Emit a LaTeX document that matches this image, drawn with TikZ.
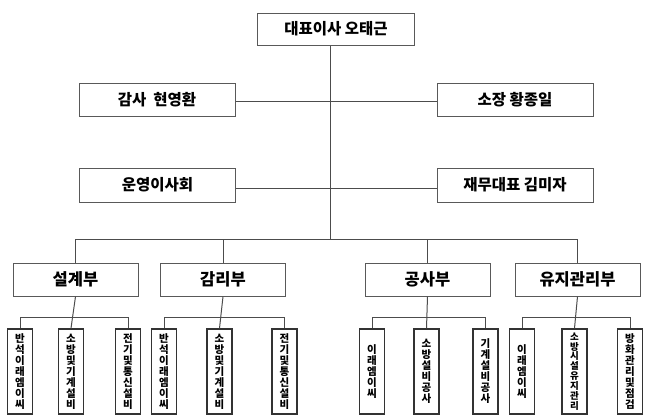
\documentclass[tikz,border=0pt]{standalone}
\usepackage{fontspec}
\setmainfont{Noto Sans CJK KR}
\begin{document}
\begin{tikzpicture}[x=1pt,y=-1pt,
  box/.style={draw=black!65,line width=1pt,fill=white,inner sep=0pt,font=\bfseries\fontsize{15.5}{17}\selectfont},
  dept/.style={box,minimum width=125pt,minimum height=33pt,font=\bfseries\fontsize{16.5}{18}\selectfont},
  top/.style={box,minimum width=156pt,minimum height=33pt},
  sub/.style={draw=black!80,line width=1.5pt,fill=white,inner sep=0pt,minimum width=25pt,minimum height=85pt,align=center,font=\bfseries\fontsize{10.5}{11}\selectfont},
  subs/.style={sub,font=\bfseries\fontsize{9.5}{9.9}\selectfont},
  conn/.style={draw=black!70,line width=1pt}]
\useasboundingbox (0,0) rectangle (652,418);
\fill[white] (0,0) rectangle (652,418);
% top
\node[top,minimum width=157pt,minimum height=32pt] (ceo) at (336,29) {대표이사 오태근};
\node[top] (audit) at (157,99.5) {감사~~현영환};
\node[top] (chief) at (515,99.5) {소장 황종일};
\node[top,minimum height=34pt] (board) at (157.5,185) {운영이사회};
\node[top,minimum height=34pt] (fin) at (515,185) {재무대표 김미자};
\coordinate (trunk) at (330,239);
% departments
\node[dept] (d1) at (75.5,279.5) {설계부};
\node[dept] (d2) at (223,279.5) {감리부};
\node[dept] (d3) at (427.5,279.5) {공사부};
\node[dept] (d4) at (577.5,279.5) {유지관리부};
% sub units
\node[sub] (s11) at (20,371.5) {반\\석\\이\\래\\엠\\이\\씨};
\node[sub] (s12) at (71,371.5) {소\\방\\및\\기\\계\\설\\비};
\node[sub] (s13) at (128,371.5) {전\\기\\및\\통\\신\\설\\비};
\node[sub] (s21) at (164,371.5) {반\\석\\이\\래\\엠\\이\\씨};
\node[sub] (s22) at (219.5,371.5) {소\\방\\및\\기\\계\\설\\비};
\node[sub] (s23) at (284.5,371.5) {전\\기\\및\\통\\신\\설\\비};
\node[sub] (s31) at (372,371.5) {이\\래\\엠\\이\\씨};
\node[sub] (s32) at (426.5,371.5) {소\\방\\설\\비\\공\\사};
\node[sub] (s33) at (485.5,371.5) {기\\계\\설\\비\\공\\사};
\node[sub] (s41) at (522,371.5) {이\\래\\엠\\이\\씨};
\node[subs] (s42) at (574.5,371.5) {소\\방\\시\\설\\유\\지\\관\\리};
\node[sub] (s43) at (630,371.5) {방\\화\\관\\리\\및\\점\\검};
% connectors
\path[conn] (ceo.south -| trunk) -- (trunk);
\path[conn] ([yshift=-1.5pt]audit.east) -- ([yshift=-1.5pt]audit.east -| chief.west);
\path[conn] ([yshift=-3pt]board.east) -- ([yshift=-3pt]board.east -| fin.west);
\path[conn] (d1.north) -- (d1.north |- trunk) -- (d4.north |- trunk) -- (d4.north);
\path[conn] (d2.north) -- (d2.north |- trunk);
\path[conn] (d3.north) -- (d3.north |- trunk);
\foreach \g in {1,2,3,4}{
  \path[conn] (d\g.south) -- (s\g2.north);
  \path[conn] (s\g1.north) -- ++(0,-11) -| (s\g3.north);
}
\end{tikzpicture}
\end{document}
